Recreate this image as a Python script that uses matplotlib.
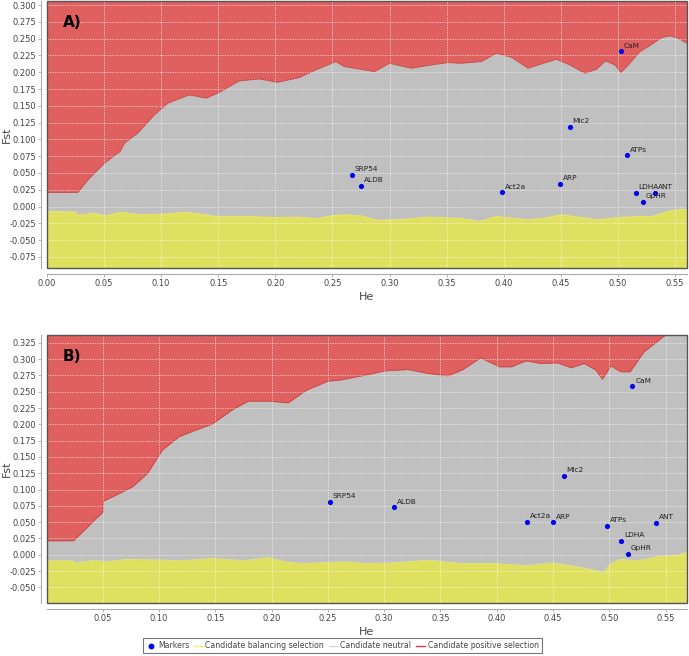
import numpy as np
import matplotlib
matplotlib.use('Agg')
import matplotlib.pyplot as plt
from matplotlib.patches import Rectangle
from matplotlib.lines import Line2D

# ------------------ DATA -------------------------------------

# panel A: upper (neutral / positive) boundary
a_up_he = [0.0, 0.0271, 0.0373, 0.0504, 0.0641, 0.0679, 0.0795, 0.0941, 0.1058, 0.1247,
           0.1393, 0.1495, 0.1684, 0.1859, 0.2019, 0.2209, 0.2354, 0.2529, 0.2605, 0.2868,
           0.30, 0.319, 0.3365, 0.3512, 0.3629, 0.3804, 0.3936, 0.4067, 0.4213, 0.433,
           0.4462, 0.4579, 0.4711, 0.4813, 0.4892, 0.4974, 0.5026, 0.5091, 0.5193, 0.5266,
           0.5383, 0.5456, 0.553, 0.5605]
a_up_fst = [0.0211, 0.0211, 0.0424, 0.0647, 0.082, 0.0944, 0.1093, 0.1365, 0.1539, 0.1663,
            0.1613, 0.1687, 0.187, 0.190, 0.185, 0.192, 0.2034, 0.2158, 0.2084, 0.2009,
            0.2133, 0.2059, 0.2108, 0.2143, 0.2133, 0.2158, 0.2282, 0.2222, 0.2059, 0.2123,
            0.2193, 0.2108, 0.1984, 0.2044, 0.2168, 0.2108, 0.1994, 0.2108, 0.2306, 0.2381,
            0.2515, 0.254, 0.2505, 0.243]
# panel A: lower (balancing / neutral) boundary
a_lo_he = [0.0, 0.0256, 0.0271, 0.0402, 0.0519, 0.065, 0.081, 0.1043, 0.1218, 0.148,
           0.1772, 0.1975, 0.2209, 0.2354, 0.25, 0.2605, 0.2751, 0.2898, 0.319, 0.3336,
           0.3629, 0.3789, 0.3936, 0.4067, 0.4213, 0.436, 0.4506, 0.4652, 0.4827, 0.5003,
           0.5178, 0.5295, 0.5471, 0.5605]
a_lo_fst = [-0.0071, -0.0081, -0.0131, -0.0096, -0.0136, -0.0081, -0.0121, -0.0111, -0.0081, -0.0146,
            -0.0146, -0.0161, -0.0156, -0.018, -0.0136, -0.0121, -0.0136, -0.0205, -0.018, -0.0156,
            -0.0175, -0.022, -0.0146, -0.017, -0.0195, -0.017, -0.0121, -0.0156, -0.0195, -0.0161,
            -0.0146, -0.0146, -0.0057, -0.0037]

a_names = ['SRP54', 'ALDB', 'Act2a', 'ARP', 'Mlc2', 'CaM', 'ATPs', 'LDHA', 'ANT', 'GpHR']
a_he = [0.2673, 0.2751, 0.3988, 0.4497, 0.4576, 0.5029, 0.5082, 0.5154, 0.5325, 0.5219]
a_fst = [0.0474, 0.031, 0.0211, 0.0335, 0.1187, 0.2311, 0.0761, 0.0201, 0.0201, 0.0067]

# panel B
b_up_he = [0.0, 0.0241, 0.0353, 0.0441, 0.05, 0.0506, 0.0618, 0.0765, 0.0897, 0.1029,
           0.1176, 0.1324, 0.1471, 0.1647, 0.1794, 0.1971, 0.2147, 0.2309, 0.25, 0.2603,
           0.2829, 0.3006, 0.3213, 0.339, 0.3567, 0.37, 0.3856, 0.4024, 0.4128, 0.426,
           0.4393, 0.4541, 0.4659, 0.4777, 0.488, 0.4939, 0.5013, 0.5102, 0.5184, 0.5308,
           0.5485, 0.569]
b_up_fst = [0.0215, 0.0215, 0.0404, 0.0557, 0.0649, 0.0823, 0.0915, 0.1043, 0.1247, 0.1605,
            0.1809, 0.1911, 0.2003, 0.2218, 0.2356, 0.2356, 0.233, 0.2524, 0.2662, 0.2678,
            0.2754, 0.2821, 0.2841, 0.278, 0.2744, 0.2841, 0.302, 0.2882, 0.2882, 0.2974,
            0.2933, 0.2943, 0.2867, 0.2933, 0.2831, 0.2693, 0.2897, 0.2806, 0.2806, 0.3112,
            0.3352, 0.35]
b_lo_he = [0.0, 0.0235, 0.025, 0.0441, 0.05, 0.0735, 0.1029, 0.1206, 0.1471, 0.1765,
           0.1971, 0.2118, 0.2294, 0.25, 0.2652, 0.2829, 0.3094, 0.339, 0.3685, 0.398,
           0.4275, 0.4482, 0.4718, 0.4895, 0.4939, 0.5013, 0.5102, 0.525, 0.5426, 0.5603,
           0.569]
b_lo_fst = [-0.0092, -0.0092, -0.0122, -0.0082, -0.0107, -0.0071, -0.0082, -0.0092, -0.0056, -0.0092,
            -0.0041, -0.0107, -0.0133, -0.0117, -0.0107, -0.0133, -0.0122, -0.0082, -0.0133, -0.0133,
            -0.0168, -0.0122, -0.0184, -0.0245, -0.0286, -0.0133, -0.0071, -0.0092, -0.0031, -0.0005,
            0.0046]

b_names = ['SRP54', 'ALDB', 'Act2a', 'ARP', 'Mlc2', 'CaM', 'ATPs', 'ANT', 'LDHA', 'GpHR']
b_he = [0.2515, 0.3089, 0.4269, 0.4499, 0.4597, 0.5205, 0.4981, 0.5417, 0.5105, 0.5164]
b_fst = [0.0813, 0.0726, 0.0501, 0.0496, 0.1211, 0.2581, 0.0445, 0.0486, 0.0210, 0.0011]

a_xticks = [0.00, 0.05, 0.10, 0.15, 0.20, 0.25, 0.30, 0.35, 0.40, 0.45, 0.50, 0.55]
a_yticks = [-0.075, -0.050, -0.025, 0.000, 0.025, 0.050, 0.075, 0.100, 0.125, 0.150,
            0.175, 0.200, 0.225, 0.250, 0.275, 0.300]
b_xticks = [0.05, 0.10, 0.15, 0.20, 0.25, 0.30, 0.35, 0.40, 0.45, 0.50, 0.55]
b_yticks = [-0.050, -0.025, 0.000, 0.025, 0.050, 0.075, 0.100, 0.125, 0.150, 0.175,
            0.200, 0.225, 0.250, 0.275, 0.300, 0.325]

legend_labels = ['Markers', 'Candidate balancing selection', 'Candidate neutral',
                 'Candidate positive selection']

# ------------------ STYLE -------------------------------------

RED = '#E06060'
GRAY = '#C0C0C0'
YELLOW = '#E0E060'
TXT = '#444444'

plt.rcParams['font.family'] = ['DejaVu Sans']


def panel(ax, up_he, up_fst, lo_he, lo_fst, he, fst, names, xlim, ylim, xt, yt, tag):
    ax.set_facecolor(GRAY)
    ax.fill_between(up_he, up_fst, 1.0, color=RED, lw=0, zorder=1)
    ax.fill_between(lo_he, -1.0, lo_fst, color=YELLOW, lw=0, zorder=1)
    ax.plot(up_he, up_fst, color='#C84848', lw=0.6, zorder=1.5)
    ax.plot(lo_he, lo_fst, color='#E8E870', lw=0.6, zorder=1.5)
    ax.scatter(he, fst, s=14, color='#0000EE', zorder=4, lw=0)
    for n, x, y in zip(names, he, fst):
        ax.annotate(n, (x, y), xytext=(2, 2), textcoords='offset points',
                    fontsize=5.3, color='#222222', ha='left', va='bottom', zorder=5)
    ax.set_xlim(*xlim)
    ax.set_ylim(*ylim)
    ax.set_xticks(xt)
    ax.set_xticklabels(['%.2f' % v for v in xt])
    ax.set_yticks(yt)
    ax.set_yticklabels(['%.3f' % v for v in yt])
    ax.set_axisbelow(False)
    ax.grid(True, color='white', ls=(0, (1.5, 1.5)), lw=0.6, alpha=0.7)
    for s in ['top', 'right']:
        ax.spines[s].set_visible(False)
    for s in ['left', 'bottom']:
        ax.spines[s].set_position(('outward', 4))
        ax.spines[s].set_color('#AAAAAA')
        ax.spines[s].set_linewidth(0.8)
    ax.tick_params(length=2, width=0.6, color='#AAAAAA', labelsize=6, labelcolor=TXT, pad=2)
    ax.add_patch(Rectangle((0, 0), 1, 1, transform=ax.transAxes, fill=False,
                           edgecolor='#555555', lw=1.0, zorder=6, clip_on=False))
    ax.set_xlabel('He', fontsize=8, color=TXT, labelpad=3)
    ax.set_ylabel('Fst', fontsize=8, color=TXT)
    ax.yaxis.set_label_coords(-0.055, 0.5)
    ax.text(0.025, 0.92, tag, transform=ax.transAxes, fontsize=11, fontweight='bold',
            color='black', ha='left', va='center', zorder=7)


fig = plt.figure(figsize=(6.89, 6.56), dpi=100)
ax1 = fig.add_axes([47 / 689, (656 - 268) / 656, 640 / 689, 267 / 656])
ax2 = fig.add_axes([47 / 689, (656 - 603) / 656, 640 / 689, 268 / 656])

panel(ax1, a_up_he, a_up_fst, a_lo_he, a_lo_fst, a_he, a_fst, a_names,
      (0.0, 0.5605), (-0.0914, 0.306), a_xticks, a_yticks, 'A)')
panel(ax2, b_up_he, b_up_fst, b_lo_he, b_lo_fst, b_he, b_fst, b_names,
      (0.0005, 0.569), (-0.074, 0.337), b_xticks, b_yticks, 'B)')

handles = [Line2D([], [], marker='o', ls='none', color='#0000EE', markersize=3.2),
           Line2D([], [], color='#F0F060', lw=1),
           Line2D([], [], color='#D8D8D8', lw=1),
           Line2D([], [], color='#E04040', lw=1)]
leg = fig.legend(handles, legend_labels, loc='lower center', bbox_to_anchor=(0.497, -0.002),
                 ncol=4, fontsize=5.6, frameon=True, fancybox=False, handlelength=1.2,
                 handletextpad=0.3, columnspacing=0.6, borderpad=0.4)
leg.get_frame().set_edgecolor('#555555')
leg.get_frame().set_linewidth(0.8)
for t in leg.get_texts():
    t.set_color(TXT)

fig.savefig('out.png', dpi=100)
